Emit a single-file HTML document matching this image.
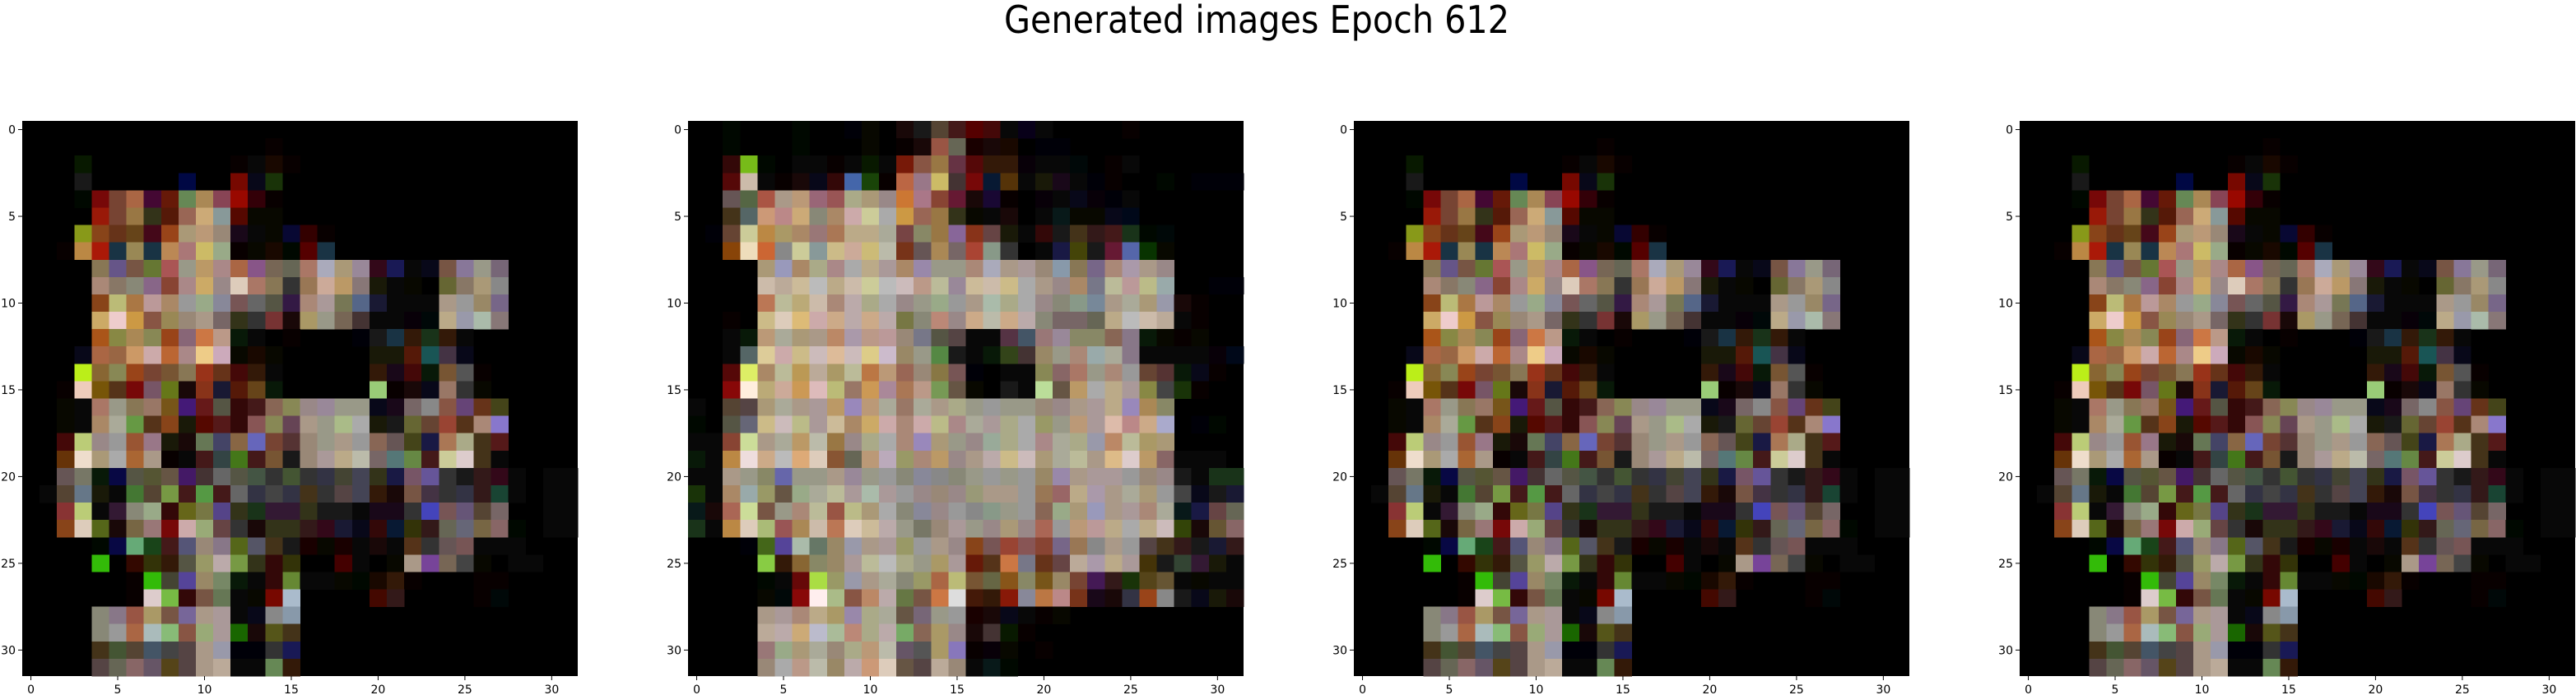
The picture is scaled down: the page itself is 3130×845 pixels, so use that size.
<!DOCTYPE html>
<html><head><meta charset="utf-8"><style>
html,body{margin:0;padding:0;background:#fff;}
svg{display:block;font-family:"DejaVu Sans","Liberation Sans",sans-serif;}
</style></head><body>
<svg id="fig" width="3130" height="845" viewBox="0 0 3130 845" xmlns="http://www.w3.org/2000/svg">
<rect width="3130" height="845" fill="#fff"/>
<text x="1527" y="40" font-size="46" text-anchor="middle" textLength="614" lengthAdjust="spacingAndGlyphs" fill="#000">Generated images Epoch 612</text>
</svg>
<script>
const tickValues = [0,5,10,15,20,25,30];
const gridSize = 32;
const panel1Rows = [
"","14:100","3:120 12:100,111,210,100","3:222 9:014 12:710,112,231",
"3:010,711,743,a64,413,621,685,a85,845,910,301,100",
"4:921,743,974,332,521,965,ca7,899,510,110,110",
"3:892,842,632,642,412,942,a97,b97,987,212,111,110,113,300,100",
"2:100,b84,a21,234,985,234,b85,a77,cb6,9a8,100,110,210,010,500,234",
"4:875,658,754,673,a55,998,b96,a88,a64,858,765,665,a76,aab,a97,989,312,225,111,112,754,879,998,767",
"4:a87,876,887,868,843,a88,ca6,988,dcb,a76,875,333,975,ca9,b96,877,221,111,110,000,663,876,a97,888",
"4:842,bb7,a74,b99,a86,999,9a8,889,755,666,554,324,a87,a99,775,568,223,111,111,111,a98,999,986,768",
"4:ca6,ecc,c94,854,985,987,a98,766,332,333,733,211,a96,998,765,433,111,111,101,011,ba8,99a,aba,877",
"4:a52,884,a85,885,942,867,c74,b98,121,111,000,100,000,000,000,001,222,234,321,232,321,111",
"3:112,a64,964,c96,caa,b63,a88,ec8,cab,110,210,110 20:221,221,521,255,434,112",
"3:be2,863,885,942,743,753,875,932,632,411,321,111 20:321,212,411,121,753,555,100",
"2:100,ecb,751,532,711,756,672,211,832,223,521,642,121 20:9c7,100,211,112,976,333,110",
"2:110,111,a76,998,875,976,752,427,622,554,311,422,865,885,988,989,998,998,112,212,766,888,854,647,632,442",
"2:110,111,a86,aa9,694,532,842,221,510,522,311,855,885,645,a98,998,ab8,aaa,221,222,663,643,943,532,a87,87c",
"2:411,bc7,988,999,953,978,221,211,675,446,864,66b,743,533,987,998,a98,999,865,655,442,224,a75,aa8,432,522",
"2:631,edc,a97,aaa,a63,a98,100,111,422,344,472,422,753,222,987,a99,ba8,bba,766,577,684,422,cc9,dcc,432,111",
"2:655,776,121,114,554,553,654,426,433,666,554,454,333,453,333,334,443,445,332,224,756,659,333,222,322,312,111,000,111,111",
"1:111,543,678,221,111,473,543,794,422,594,422,666,334,444,334,432,333,544,445,321,211,754,434,333,334,322,243,111,000,111,111",
"2:833,bc7,111,323,887,9a8,311,662,774,548,332,232,323,323,332,222,222,111,212,212,333,44b,755,657,543,766,000,000,111,111",
"2:842,dcb,562,211,764,977,711,caa,9a7,644,333,211,332,332,322,312,223,112,311,123,331,322,665,667,764,866,010,000,111,111",
"4:010,114,6a7,242,422,557,987,878,562,556,432,222,200,110,200,111,211,111,532,333,655,755,111,111,111",
"4:3b1,000,310,331,321,554,996,baa,794,332,311,331,000,000,400,111,000,110,a98,749,765,444,110,000,111,111",
"6:100,3b1,443,549,986,786,121,111,311,683,111,111,110,010,210,321,100 26:100,100",
"6:100,dcc,7b4,311,754,675,111,110,710,abc 20:410,322 26:100,011",
"4:887,878,954,a96,754,769,a98,a99,111,112,888,89a",
"4:887,999,a64,abb,8b7,854,9a7,a99,260,211,552,432",
"4:432,453,543,456,444,544,a98,99a,001,001,333,225",
"4:544,665,866,656,542,544,a98,ba9,111,111,685,321"
];
const panel2Rows = [
"0:000,000,010,000,000,000,010,000,000,001,110,000,211,222,543,422,500,411,111,102,111,000,000,000,000,100",
"2:010 6:010 10:110 12:100,211,954,665,200,211,210,000,001,001",
"2:311,7b2,010,000,111,111,100,111,120,111,721,854,974,634,511,321,321,101,111,111,011,000,100,111",
"2:511,cba,111,100,211,112,311,46a,241,100,b64,978,cb6,433,711,123,531,111,221,212,111,001,100,000,000,010,000,001,001,001",
"2:655,564,a54,a98,b97,967,955,aa8,a97,988,c73,a78,843,623,211,213,100,000,101,111,112,101,001,111",
"2:432,566,c97,b88,ca7,887,a86,caa,cc9,aaa,c94,965,974,332,110,111,211,000,111,122,110,110,112,012",
"1:001,643,cc9,b84,a96,a86,977,a75,ba8,ba8,aa9,744,886,974,869,832,644,221,111,311,222,432,322,422,232,010,011",
"2:841,edb,c63,888,cc9,899,cb8,ca9,cb7,bba,732,655,a85,766,a43,898,333,000,111,224,441,222,623,56a,130,110",
"4:a97,99b,a86,aa8,a88,aaa,ba8,a99,a86,98a,998,998,a87,aab,a98,a99,987,89a,875,768,a87,a9a,a98,988",
"4:cba,ba9,cb9,bbb,ba8,cba,cc9,bbb,cbb,b98,bb9,989,cb9,cba,cb8,aaa,a98,988,a86,778,bb9,b99,bb8,9aa,000,000,001,001",
"4:b75,bb9,ba7,cba,a87,baa,aa8,aaa,988,998,9a8,999,a98,aba,aa8,aaa,988,887,898,789,a98,aa9,a97,99a,211,100",
"2:100,000,cb8,dcb,db7,caa,ca8,baa,ca8,baa,774,887,b87,988,ca8,bba,ca8,baa,887,766,766,665,ba8,bbb,cba,ba9,111,100",
"2:111,121,b97,aa9,a97,a98,b86,a9a,b98,b99,987,778,554,544,111,111,534,456,977,989,886,886,865,878,121,110,100,110",
"2:111,566,dc9,caa,cb8,cbb,db9,cbb,dc8,cbc,986,998,584,222,111,121,342,433,986,998,a87,9aa,aa9,878,111,111,111,111,101,012",
"2:511,de6,a86,bb9,b95,ba9,a96,bb9,b74,b97,965,987,874,755,001,000,111,111,885,866,a76,998,a87,999,643,533,121,112,100",
"2:811,fed,ba7,ca9,c95,dbb,bb7,976,c95,a89,a75,b98,795,654,110,000,222,111,bd9,654,b96,aaa,ba8,a99,884,444,231,100",
"0:111,000,543,544,a97,aa9,a98,a99,b96,98b,b97,aa9,976,aa9,a98,aa8,998,999,998,998,987,988,a98,a99,ba8,98b,a85,886",
"0:010,000,554,667,cb8,cbb,bb8,a99,cb9,a86,ca6,caa,a87,caa,bb8,a88,aa9,a99,aa8,aaa,996,998,b97,a99,dba,b88,ca8,aac,000,001,010",
"0:111,111,843,cd9,a98,aa9,b96,bba,974,988,aa8,aaa,a87,98b,a97,998,988,9a9,aa8,aaa,a88,aa9,aa8,99a,b86,bb9,a96,a97",
"0:121,111,b84,edd,ca8,bbb,da7,dcb,853,665,b97,bab,996,a87,b96,988,a98,baa,cb8,cbb,a97,aa9,bb9,a98,db8,dcc,b96,866,111,111,111",
"0:111,111,a98,998,886,66a,998,998,a98,989,998,999,887,889,888,887,998,999,998,999,986,98a,a98,a99,a99,999,987,988,222,111,232,232",
"0:231,111,a86,9aa,996,654,9a8,aa9,bb9,a99,aba,a99,999,988,987,988,997,a98,a98,999,975,966,ba8,a9a,a98,aa9,a97,999,444,112,222,223",
"0:122,211,a65,cd9,754,998,a87,bb9,954,bb8,a97,aaa,887,889,988,999,888,898,998,999,865,9a8,a97,99b,a98,a99,a87,aa9,122,224,644,665",
"0:232,111,b84,dcb,ab7,955,a85,cba,b75,dcb,cb9,baa,998,776,987,a99,998,988,a97,988,a65,999,b97,b99,ba8,aaa,ba8,cbb,341,211,653,866",
"3:001,462,549,aba,676,986,99a,a98,a99,996,999,a98,988,842,755,943,855,843,768,975,888,a98,999,544,432,322,222,223,322",
"4:8c4,321,863,886,986,a99,bb9,bbb,aa8,998,a96,a99,621,532,c74,778,632,644,ba9,a9a,ba8,a99,431,222,343,323,221,111",
"4:010,111,611,ad4,996,99a,a98,aa9,887,996,a64,bb7,753,664,852,886,752,986,743,425,322,231,542,653,111,110,111,111",
"4:110,011,811,fee,ab8,854,b86,baa,674,754,c74,ddd,421,321,821,889,b74,b88,732,212,211,334,942,888,222,112,221,211",
"4:a98,a99,a87,ba8,a96,98a,aa8,aa9,654,767,998,999,200,211,112,111,100,110",
"4:ba9,baa,ca7,bbc,ab9,b87,aa8,baa,7a6,865,a96,988,211,433,120,100",
"4:977,9a8,a97,aa9,987,aa8,b97,bba,656,555,a96,87b,100,101,110,000,100",
"4:987,aaa,b98,bba,986,baa,c97,dcb,654,544,ba9,987,111,122,010"
];
const panelData = [panel1Rows, panel2Rows, panel1Rows, panel1Rows];

const NS = "http://www.w3.org/2000/svg";
const svg = document.getElementById("fig");
const PX0 = 27, PY0 = 147, PSIZE = 675, PSTEP = 809;
const cell = PSIZE / gridSize;
function parseRow(s){
  const out = new Array(gridSize).fill("000");
  s.trim().split(/\s+/).filter(Boolean).forEach(seg=>{
    const [st, list] = seg.split(":");
    list.split(",").forEach((c,k)=>{ const i=+st+k; if(i<gridSize) out[i]=c; });
  });
  return out;
}
function toColor(c){
  const ch = c.split("").map(d=>{ const v=parseInt(d,16); return v<=2 ? Math.max(0, v*17-9) : v*17; });
  return "rgb(" + ch.join(",") + ")";
}
function mk(tag, attrs){ const e=document.createElementNS(NS,tag); for(const k in attrs) e.setAttribute(k,attrs[k]); return e; }

panelData.forEach((rows, p)=>{
  const x0 = PX0 + p*PSTEP, y0 = PY0;
  const xs = v => x0 + (v+0.5)*cell;
  const ys = v => y0 + (v+0.5)*cell;
  const g = mk("g",{"shape-rendering":"crispEdges"});
  
  
  svg.appendChild(g);
  g.appendChild(mk("rect",{x:x0,y:y0,width:PSIZE,height:PSIZE,fill:"#000"}));
  rows.forEach((rs, r)=>{
    parseRow(rs).forEach((c, col)=>{
      if(c==="000") return;
      const rc = mk("rect",{x:(xs(col)-cell/2).toFixed(2),y:(ys(r)-cell/2).toFixed(2),width:(cell+0.3).toFixed(2),height:(cell+0.3).toFixed(2),fill:toColor(c)});
      
      
      g.appendChild(rc);
    });
  });
  const ax = mk("g",{});
  
  
  svg.appendChild(ax);
  tickValues.forEach(v=>{
    ax.appendChild(mk("line",{x1:x0-5,x2:x0,y1:ys(v),y2:ys(v),stroke:"#000","stroke-width":1}));
    const ty = mk("text",{x:x0-8,y:ys(v)+5,"font-size":14,"text-anchor":"end",fill:"#000"});
    ty.textContent = v;
    
    
    ax.appendChild(ty);
    ax.appendChild(mk("line",{x1:xs(v),x2:xs(v),y1:y0+PSIZE,y2:y0+PSIZE+5,stroke:"#000","stroke-width":1}));
    const tx = mk("text",{x:xs(v),y:843,"font-size":14,"text-anchor":"middle",fill:"#000"});
    tx.textContent = v;
    
    
    ax.appendChild(tx);
  });
});
</script>
</body></html>
